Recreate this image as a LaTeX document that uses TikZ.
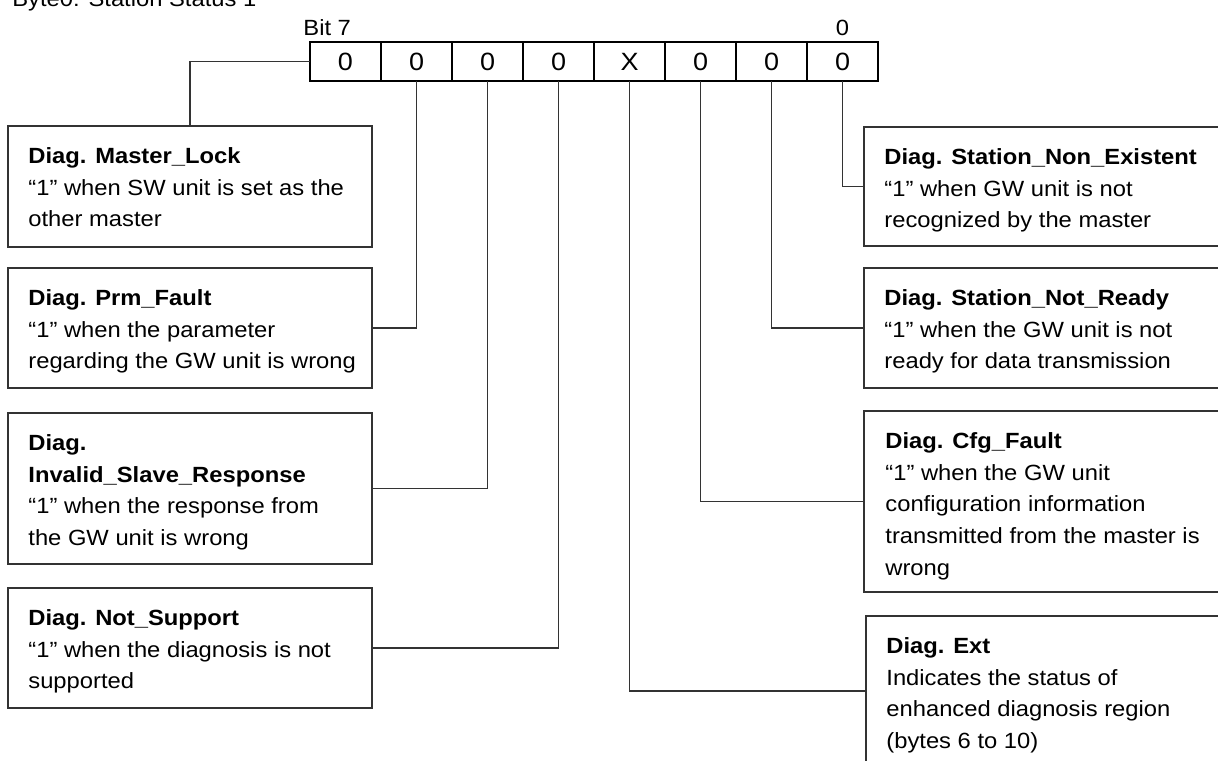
\documentclass[tikz,border=0pt]{standalone}
\usepackage{fontspec}
\setmainfont{Liberation Sans}[FakeStretch=1.08]
\begin{document}
\begin{tikzpicture}[x=0.5pt,y=-0.5pt,
  every node/.style={font=\fontsize{11pt}{15.9pt}\selectfont},
  bitcell/.style={draw=black,line width=1.4pt,minimum width=35.5pt,minimum height=19.5pt,inner sep=0pt,outer sep=0pt,anchor=west,font=\fontsize{12.5pt}{15pt}\selectfont},
  infobox/.style={draw=black!80,line width=0.65pt,inner sep=0pt,outer sep=0pt,anchor=north west},
  infotext/.style={inner sep=0pt,anchor=north west,align=left},
  wire/.style={draw=black!80,line width=0.65pt}]
\useasboundingbox (0,0) rectangle (1218,760);
\clip (0,0) rectangle (1218,760);

% title and bit labels
\node[anchor=base west,inner sep=0pt] (title) at (12,6) {Byte0: Station Status 1};
\node[anchor=base west,inner sep=0pt] (bitseven) at (303,35) {Bit 7};
\node[anchor=base,inner sep=0pt] (bitzero) at (842.5,35) {0};

% bit cells
\node[bitcell] (b7) at (310,61.5) {0};
\node[bitcell] (b6) at (381,61.5) {0};
\node[bitcell] (b5) at (452,61.5) {0};
\node[bitcell] (b4) at (523,61.5) {0};
\node[bitcell] (b3) at (594,61.5) {X};
\node[bitcell] (b2) at (665,61.5) {0};
\node[bitcell] (b1) at (736,61.5) {0};
\node[bitcell] (b0) at (807,61.5) {0};

% left boxes
\node[infobox,minimum width=182pt,minimum height=60.5pt] (ml) at (8,126) {};
\node[infotext] (mlt) at (28,147) {\textbf{Diag. Master\_Lock}\\“1” when SW unit is set as the\\other master};

\node[infobox,minimum width=182pt,minimum height=60pt] (pf) at (8,268) {};
\node[infotext] (pft) at (28,289) {\textbf{Diag. Prm\_Fault}\\“1” when the parameter\\regarding the GW unit is wrong};

\node[infobox,minimum width=182pt,minimum height=75.5pt] (isr) at (8,413) {};
\node[infotext] (isrt) at (28,434) {\textbf{Diag.}\\\textbf{Invalid\_Slave\_Response}\\“1” when the response from\\the GW unit is wrong};

\node[infobox,minimum width=182pt,minimum height=60pt] (ns) at (8,588) {};
\node[infotext] (nst) at (28,609) {\textbf{Diag. Not\_Support}\\“1” when the diagnosis is not\\supported};

% right boxes
\node[infobox,minimum width=200pt,minimum height=59.5pt] (sne) at (864,127) {};
\node[infotext] (snet) at (884,148) {\textbf{Diag. Station\_Non\_Existent}\\“1” when GW unit is not\\recognized by the master};

\node[infobox,minimum width=200pt,minimum height=60pt] (snr) at (864,268) {};
\node[infotext] (snrt) at (884,289) {\textbf{Diag. Station\_Not\_Ready}\\“1” when the GW unit is not\\ready for data transmission};

\node[infobox,minimum width=200pt,minimum height=90.5pt] (cfg) at (864,411) {};
\node[infotext] (cfgt) at (885,432) {\textbf{Diag. Cfg\_Fault}\\“1” when the GW unit\\configuration information\\transmitted from the master is\\wrong};

\node[infobox,minimum width=200pt,minimum height=75pt] (ext) at (866,616) {};
\node[infotext] (extt) at (886,637) {\textbf{Diag. Ext}\\Indicates the status of\\enhanced diagnosis region\\(bytes 6 to 10)};

% connectors
\draw[wire] (b7.west) -| (ml.north);
\draw[wire] (b6.south) |- (pf.east);
\draw[wire] (b5.south) |- (isr.east);
\draw[wire] (b4.south) |- (ns.east);
\draw[wire] (b3.south) |- (ext.west);
\draw[wire] (b2.south) |- (cfg.west);
\draw[wire] (b1.south) |- (snr.west);
\draw[wire] (b0.south) |- (sne.west);
\end{tikzpicture}
\end{document}
